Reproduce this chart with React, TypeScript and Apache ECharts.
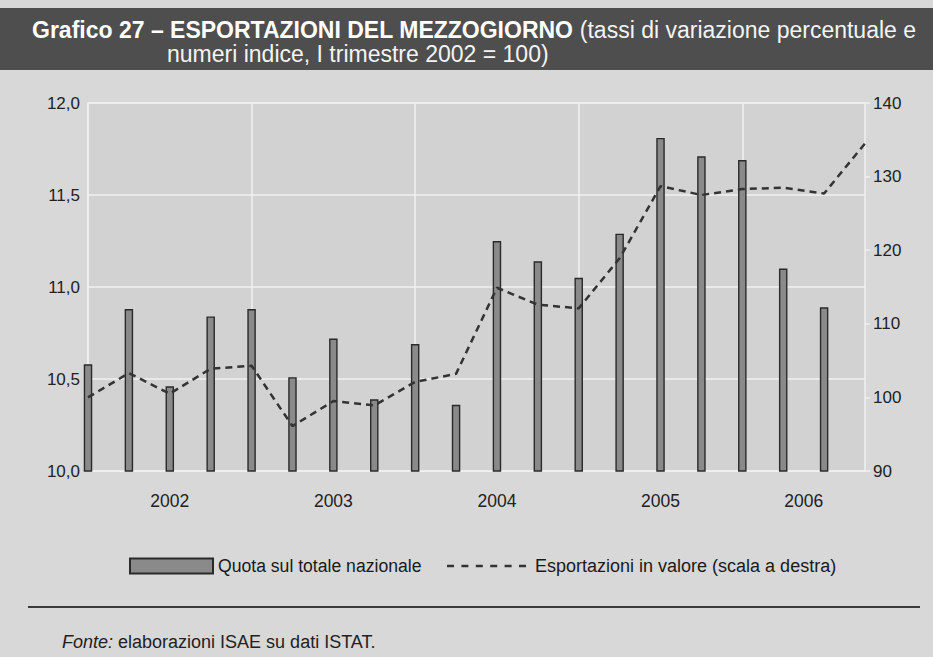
import React, { useEffect, useRef } from "react";
import * as echarts from "echarts";

const quarters = [
  "I 2002", "II 2002", "III 2002", "IV 2002",
  "I 2003", "II 2003", "III 2003", "IV 2003",
  "I 2004", "II 2004", "III 2004", "IV 2004",
  "I 2005", "II 2005", "III 2005", "IV 2005",
  "I 2006", "II 2006", "III 2006", "IV 2006",
];
const quotaNazionale = [
  10.58, 10.88, 10.46, 10.84, 10.88, 10.51, 10.72, 10.39, 10.69, 10.36,
  11.25, 11.14, 11.05, 11.29, 11.81, 11.71, 11.69, 11.1, 10.89, null,
];
const esportazioniValore = [
  100, 103.3, 100.5, 103.9, 104.3, 96.1, 99.5, 98.9, 102.1, 103.2,
  114.9, 112.6, 112.1, 118.9, 128.7, 127.5, 128.3, 128.5, 127.7, 134.5,
];
const years = ["2002", "2003", "2004", "2005", "2006"];
const seriesNames = ["Quota sul totale nazionale", "Esportazioni in valore (scala a destra)"];

const FONT = "'Liberation Sans', Arial, Helvetica, sans-serif";
const DASH_ICON =
  "path://M0,0h7v2.5h-7z M14.4,0h7v2.5h-7z M28.8,0h7v2.5h-7z M43.2,0h7v2.5h-7z M57.6,0h7v2.5h-7z M72,0h7v2.5h-7z";

export default function App() {
  const ref = useRef<HTMLDivElement>(null);
  useEffect(() => {
    if (!ref.current) return;
    const chart = echarts.init(ref.current, null, { renderer: "svg" });
    const lastIdx = quarters.length - 1;
    const yearCenter = (k: number) => (4 * k + Math.min(4 * k + 4, lastIdx)) / 2;
    const legendText = { fontFamily: FONT, fontSize: 17.6, color: "#1a1a1a" };
    const option: any = {
      animation: false,
      backgroundColor: "#d8d8d8",
      textStyle: { fontFamily: FONT },
      grid: {
        left: 88, right: 68, top: 103, bottom: 186,
        show: true, backgroundColor: "#d2d2d2", borderColor: "#f0f0f0", borderWidth: 1.5,
      },
      legend: [
        {
          left: 124, top: 552, itemWidth: 83, itemHeight: 15, itemGap: 0,
          selectedMode: false, textStyle: legendText,
          data: [{ name: seriesNames[0], icon: "rect" }],
        },
        {
          left: 442, top: 552, itemWidth: 79, itemHeight: 15, itemGap: 0,
          selectedMode: false, textStyle: { ...legendText, fontSize: 18, padding: [0, 0, 0, 4] },
          data: [{ name: seriesNames[1], icon: DASH_ICON, itemStyle: { color: "#333" } }],
        },
      ],
      xAxis: [
        {
          type: "category", data: quarters, boundaryGap: false,
          axisLabel: { show: false }, axisTick: { show: false }, axisLine: { show: false },
          splitLine: { show: true, interval: 3, lineStyle: { color: "#f0f0f0", width: 1.5 } },
        },
        {
          type: "value", min: 0, max: lastIdx, interval: 0.5, position: "bottom",
          axisLine: { show: false }, axisTick: { show: false }, splitLine: { show: false },
          axisLabel: {
            fontSize: 17.5, color: "#222", margin: 21, fontFamily: FONT,
            showMinLabel: true, showMaxLabel: true,
            formatter: (v: number) => {
              for (let k = 0; k < years.length; k++) if (Math.abs(yearCenter(k) - v) < 0.01) return years[k];
              return "";
            },
          },
        },
      ],
      yAxis: [
        {
          type: "value", min: 10, max: 12, interval: 0.5,
          axisLine: { show: false }, axisTick: { show: false },
          axisLabel: {
            fontSize: 17, color: "#222", margin: 8, fontFamily: FONT,
            formatter: (v: number) => v.toFixed(1).replace(".", ","),
          },
          splitLine: { show: true, lineStyle: { color: "#f0f0f0", width: 1.5 } },
        },
        {
          type: "value", min: 90, max: 140, interval: 10, position: "right",
          axisLine: { show: false },
          axisTick: { show: true, length: 5, lineStyle: { color: "#f0f0f0", width: 1.5 } },
          axisLabel: { fontSize: 17, color: "#222", margin: 8, fontFamily: FONT },
          splitLine: { show: false },
        },
      ],
      series: [
        {
          name: seriesNames[0], type: "bar", xAxisIndex: 0, yAxisIndex: 0,
          data: quotaNazionale, barWidth: 8.5,
          itemStyle: { color: "#8a8a8a", borderColor: "#2a2a2a", borderWidth: 1.4 },
        },
        {
          name: seriesNames[1], type: "line", xAxisIndex: 0, yAxisIndex: 1,
          data: esportazioniValore, symbol: "none", z: 5,
          itemStyle: { color: "#333" },
          lineStyle: { color: "#333", width: 2.5, type: [7, 5] },
        },
      ],
      graphic: [
        { type: "rect", left: 0, top: 8, shape: { width: 933, height: 62 }, style: { fill: "#4e4e4e" } },
        {
          type: "text", x: 32, y: 29.5,
          style: {
            text: "{b|Grafico 27 – ESPORTAZIONI DEL MEZZOGIORNO} {n|(tassi di variazione percentuale e}",
            fill: "#ffffff", fontSize: 23, fontFamily: FONT, verticalAlign: "middle",
            rich: {
              b: { fontWeight: "bold", fontSize: 23, fill: "#ffffff", fontFamily: FONT },
              n: { fontSize: 23, fill: "#f4f4f4", fontFamily: FONT },
            },
          },
        },
        {
          type: "text", x: 167, y: 54,
          style: {
            text: "numeri indice, I trimestre 2002 = 100)",
            fill: "#f4f4f4", fontSize: 23, fontFamily: FONT, verticalAlign: "middle",
          },
        },
        {
          type: "line", shape: { x1: 28, y1: 607, x2: 920, y2: 607 },
          style: { stroke: "#3a3a3a", lineWidth: 2 },
        },
        {
          type: "text", x: 62, y: 641.5,
          style: {
            text: "{i|Fonte:} elaborazioni ISAE su dati ISTAT.",
            fill: "#222", fontSize: 18, fontFamily: FONT, verticalAlign: "middle",
            rich: { i: { fontStyle: "italic", fontSize: 18, fill: "#222", fontFamily: FONT } },
          },
        },
      ],
    };
    chart.setOption(option);
    return () => chart.dispose();
  }, []);
  return <div ref={ref} style={{ position: "fixed", left: 0, top: 0, width: 933, height: 657 }} />;
}
